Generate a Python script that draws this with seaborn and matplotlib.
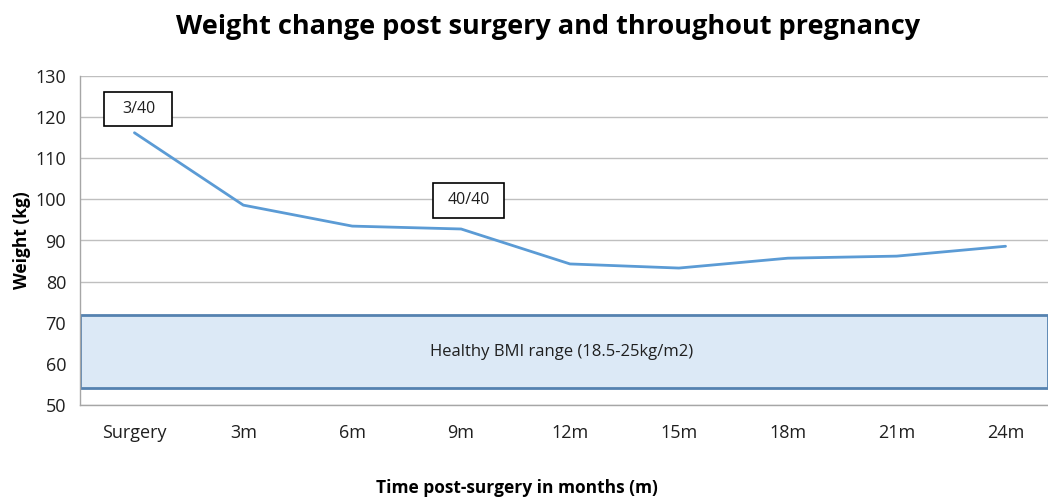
import matplotlib
matplotlib.use("Agg")
import matplotlib.pyplot as plt
import matplotlib.patches as mpatches
import numpy as np
import pandas as pd
import seaborn as sns

# ==============================
# DATA
# ==============================
time_labels = ["Surgery", "3m", "6m", "9m", "12m", "15m", "18m", "21m", "24m"]
weight_kg = [116.2, 98.6, 93.5, 92.8, 84.3, 83.3, 85.7, 86.2, 88.6]
bmi_low_kg = 54.1
bmi_high_kg = 71.9
notes = ["3/40", "40/40"]

df = pd.DataFrame({"time": time_labels, "weight": weight_kg})

# ==============================
# STYLE
# ==============================
sns.set_style("white")
plt.rcParams["font.family"] = ["Open Sans", "DejaVu Sans"]
txt_col = "#1f1f1f"

fig = plt.figure(figsize=(10.48, 4.98), dpi=100)
ax = fig.add_axes([80 / 1048, 93 / 498, 968 / 1048, 329 / 498])

# healthy BMI band
ax.axhspan(bmi_low_kg, bmi_high_kg, facecolor="#dce9f6", edgecolor="#5582b0",
           linewidth=2, zorder=2)
ax.text(3.92, 63, "Healthy BMI range (18.5-25kg/m2)", ha="center", va="center",
        fontsize=12, color=txt_col, zorder=3)

sns.lineplot(data=df, x="time", y="weight", color="#5b9bd5", linewidth=2,
             ax=ax, zorder=4, sort=False)

# annotation boxes
for (x0, x1, y0, y1), txt in zip([(-0.275, 0.349, 117.9, 126.2),
                                  (2.743, 3.394, 95.5, 104.0)], notes):
    ax.add_patch(mpatches.Rectangle((x0, y0), x1 - x0, y1 - y0, facecolor="white",
                                    edgecolor="black", linewidth=1.2, zorder=5))
    ax.text((x0 + x1) / 2, (y0 + y1) / 2, txt, ha="center", va="center",
            fontsize=11.5, color=txt_col, zorder=6)

# axes
ax.set_xlim(-0.5, 8.39)
ax.set_ylim(50, 130)
ax.set_yticks(np.arange(50, 131, 10))
ax.set_xticks(range(len(time_labels)))
ax.set_xticklabels(time_labels)
ax.set_xticks(np.arange(-0.5, 8.5, 1), minor=True)
ax.yaxis.grid(True, color="#bfbfbf", linewidth=1)
ax.set_axisbelow(True)
for s in ["top", "right"]:
    ax.spines[s].set_visible(False)
for s in ["left", "bottom"]:
    ax.spines[s].set_color("#a6a6a6")
    ax.spines[s].set_linewidth(1)
ax.tick_params(axis="x", which="major", length=0, pad=14, labelsize=13,
               labelcolor=txt_col)
ax.tick_params(axis="x", which="minor", length=6, color="#a6a6a6", direction="out")
ax.tick_params(axis="y", length=6, color="#a6a6a6", direction="out", labelsize=13,
               pad=4, labelcolor=txt_col)

ax.set_xlabel("Time post-surgery in months (m)", fontsize=12.5, fontweight="bold",
              color="black")
ax.xaxis.set_label_coords((517 - 80) / 968, (405 - 488) / 329)
ax.xaxis.label.set_va("center")
ax.set_ylabel("Weight (kg)", fontsize=12.5, fontweight="bold", labelpad=3,
              color="black")
fig.suptitle("Weight change post surgery and throughout pregnancy", fontsize=19.5,
             fontweight="bold", x=548 / 1048, y=0.972, va="top", color="black")

fig.savefig("out.png", dpi=100)
